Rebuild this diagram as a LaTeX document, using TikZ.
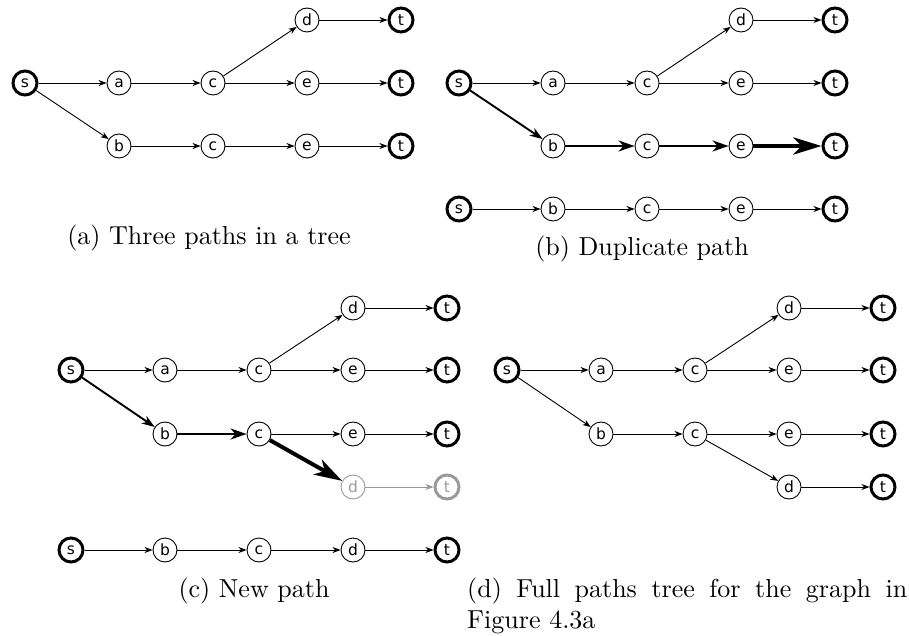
\documentclass[tikz,border=0pt]{standalone}
\usepackage{fontspec}
\usetikzlibrary{arrows.meta}
\newfontfamily\vtxfont{DejaVu Sans}
\newfontfamily\capfont{lmroman10-regular.otf}
\definecolor{fadedgray}{HTML}{9A9A9A}

\tikzset{
  x=1pt, y=-1pt,
  vtx/.style={circle, draw, line width=0.9pt, minimum size=24pt, inner sep=0pt,
    font=\vtxfont\fontsize{15.5}{15.5}\selectfont},
  term/.style={vtx, line width=3pt},
  faded/.style={draw=fadedgray, text=fadedgray},
  edge/.style={line width=0.9pt, -{Stealth[length=8pt,width=6pt,inset=2.4pt]}},
  medge/.style={line width=1.9pt, -{Stealth[length=13pt,width=9pt,inset=4pt]}},
  hedge/.style={line width=2.6pt, -{Stealth[length=16pt,width=11pt,inset=5pt]}},
  bigedge/.style={line width=4.5pt, -{Stealth[length=28pt,width=17pt,inset=8pt]}},
  fedge/.style={edge, draw=fadedgray},
  caption/.style={anchor=base, font=\capfont\fontsize{26}{31}\selectfont, inner sep=0pt},
}

\begin{document}
\begin{tikzpicture}
\useasboundingbox (0,0) rectangle (909,636);

% ---------- (a) three paths in a tree ----------
\node[term] (as)  at (25,83)   {s};
\node[vtx]  (aa)  at (119,83)  {a};
\node[vtx]  (ac1) at (213,83)  {c};
\node[vtx]  (ad)  at (307,20)  {d};
\node[vtx]  (ae1) at (307,83)  {e};
\node[term] (at1) at (401,20)  {t};
\node[term] (at2) at (401,83)  {t};
\node[vtx]  (ab)  at (119,146) {b};
\node[vtx]  (ac2) at (213,146) {c};
\node[vtx]  (ae2) at (307,146) {e};
\node[term] (at3) at (401,146) {t};
\draw[edge] (as) -- (aa);
\draw[edge] (aa) -- (ac1);
\draw[edge] (ac1) -- (ad);
\draw[edge] (ac1) -- (ae1);
\draw[edge] (ad) -- (at1);
\draw[edge] (ae1) -- (at2);
\draw[edge] (as) -- (ab);
\draw[edge] (ab) -- (ac2);
\draw[edge] (ac2) -- (ae2);
\draw[edge] (ae2) -- (at3);
\node[caption] (capa) at (209,244) {(a) Three paths in a tree};

% ---------- (b) duplicate path ----------
\node[term] (bs)  at (459,83)  {s};
\node[vtx]  (ba)  at (553,83)  {a};
\node[vtx]  (bc1) at (647,83)  {c};
\node[vtx]  (bd)  at (741,20)  {d};
\node[vtx]  (be1) at (741,83)  {e};
\node[term] (bt1) at (835,20)  {t};
\node[term] (bt2) at (835,83)  {t};
\node[vtx]  (bb)  at (553,146) {b};
\node[vtx]  (bc2) at (647,146) {c};
\node[vtx]  (be2) at (741,146) {e};
\node[term] (bt3) at (835,146) {t};
\draw[edge] (bs) -- (ba);
\draw[edge] (ba) -- (bc1);
\draw[edge] (bc1) -- (bd);
\draw[edge] (bc1) -- (be1);
\draw[edge] (bd) -- (bt1);
\draw[edge] (be1) -- (bt2);
\draw[medge] (bs) -- (bb);
\draw[hedge] (bb) -- (bc2);
\draw[hedge] (bc2) -- (be2);
\draw[bigedge] (be2) -- (bt3);
% the duplicated path
\node[term] (ps)  at (459,209) {s};
\node[vtx]  (pb)  at (553,209) {b};
\node[vtx]  (pc)  at (647,209) {c};
\node[vtx]  (pe)  at (741,209) {e};
\node[term] (pt)  at (835,209) {t};
\draw[edge] (ps) -- (pb);
\draw[edge] (pb) -- (pc);
\draw[edge] (pc) -- (pe);
\draw[edge] (pe) -- (pt);
\node[caption] (capb) at (642,255) {(b) Duplicate path};

% ---------- (c) new path ----------
\node[term] (cs)  at (71,370)  {s};
\node[vtx]  (ca)  at (165,370) {a};
\node[vtx]  (cc1) at (259,370) {c};
\node[vtx]  (cd1) at (353,308) {d};
\node[vtx]  (ce1) at (353,370) {e};
\node[term] (ct1) at (447,308) {t};
\node[term] (ct2) at (447,370) {t};
\node[vtx]  (cb)  at (165,434) {b};
\node[vtx]  (cc2) at (259,434) {c};
\node[vtx]  (ce2) at (353,434) {e};
\node[term] (ct3) at (447,434) {t};
\node[vtx, faded]  (cd2) at (353,487) {d};
\node[term, faded] (ct4) at (447,487) {t};
\draw[edge] (cs) -- (ca);
\draw[edge] (ca) -- (cc1);
\draw[edge] (cc1) -- (cd1);
\draw[edge] (cc1) -- (ce1);
\draw[edge] (cd1) -- (ct1);
\draw[edge] (ce1) -- (ct2);
\draw[medge] (cs) -- (cb);
\draw[hedge] (cb) -- (cc2);
\draw[edge] (cc2) -- (ce2);
\draw[edge] (ce2) -- (ct3);
\draw[bigedge, line width=4pt] (cc2) -- (cd2);
\draw[fedge] (cd2) -- (ct4);
% the new path
\node[term] (qs)  at (71,550)  {s};
\node[vtx]  (qb)  at (165,550) {b};
\node[vtx]  (qc)  at (259,550) {c};
\node[vtx]  (qd)  at (353,550) {d};
\node[term] (qt)  at (447,550) {t};
\draw[edge] (qs) -- (qb);
\draw[edge] (qb) -- (qc);
\draw[edge] (qc) -- (qd);
\draw[edge] (qd) -- (qt);
\node[caption] (capc) at (254,597) {(c) New path};

% ---------- (d) full paths tree ----------
\node[term] (ds)  at (507,370) {s};
\node[vtx]  (da)  at (601,370) {a};
\node[vtx]  (dc1) at (695,370) {c};
\node[vtx]  (dd1) at (789,308) {d};
\node[vtx]  (de1) at (789,370) {e};
\node[term] (dt1) at (883,308) {t};
\node[term] (dt2) at (883,370) {t};
\node[vtx]  (db)  at (601,434) {b};
\node[vtx]  (dc2) at (695,434) {c};
\node[vtx]  (de2) at (789,434) {e};
\node[term] (dt3) at (883,434) {t};
\node[vtx]  (dd2) at (789,487) {d};
\node[term] (dt4) at (883,487) {t};
\draw[edge] (ds) -- (da);
\draw[edge] (da) -- (dc1);
\draw[edge] (dc1) -- (dd1);
\draw[edge] (dc1) -- (de1);
\draw[edge] (dd1) -- (dt1);
\draw[edge] (de1) -- (dt2);
\draw[edge] (ds) -- (db);
\draw[edge] (db) -- (dc2);
\draw[edge] (dc2) -- (de2);
\draw[edge] (de2) -- (dt3);
\draw[edge] (dc2) -- (dd2);
\draw[edge] (dd2) -- (dt4);
\node[caption, anchor=base west] (capd) at (467,597)
  {\parbox[t]{440pt}{\capfont\fontsize{26}{31}\selectfont (d) Full paths tree for the graph in\linebreak Figure~4.3a}};
\end{tikzpicture}
\end{document}
